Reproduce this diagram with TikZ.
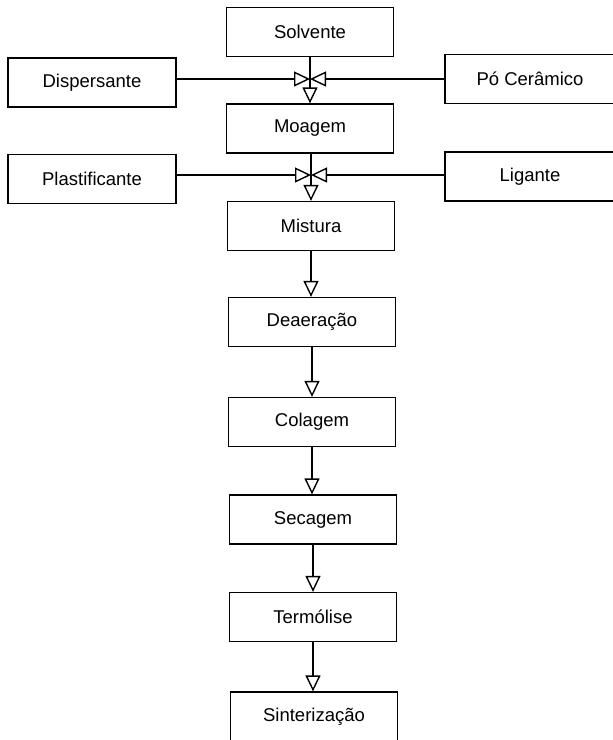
\documentclass[tikz,border=0pt]{standalone}
\usepackage{fontspec}
\setmainfont{Liberation Sans}
\usetikzlibrary{arrows.meta}
\begin{document}
\begin{tikzpicture}[x=1pt,y=-1pt,
  box/.style={draw, line width=1.3pt, minimum width=167pt, minimum height=49pt, inner sep=0pt,
    font=\fontsize{18.5}{22}\selectfont},
  conn/.style={line width=2pt},
  arr/.style={-{Triangle[open, length=16pt, width=15pt, line width=1.4pt]}}]
\useasboundingbox (0,0) rectangle (613,740);
% main column
\node[box] (solv) at (310,32) {Solvente};
\node[box] (moag) at (310,128.5) {Moagem};
\node[box] (mist) at (311,226) {Mistura};
\node[box] (deae) at (312,322) {Deaeração};
\node[box] (cola) at (312,422) {Colagem};
\node[box] (seca) at (313,519.5) {Secagem};
\node[box] (term) at (313,617) {Termólise};
\node[box] (sint) at (314,716.5) {Sinterização};
% side boxes
\node[box, minimum width=168pt] (disp) at (92,82.5) {Dispersante};
\node[box, minimum width=170pt] (po) at (530,79) {Pó Cerâmico};
\node[box, minimum width=168pt] (plas) at (92,179) {Plastificante};
\node[box, minimum width=170pt] (liga) at (530,176.5) {Ligante};
% junctions
\coordinate (j1) at (310,79);
\coordinate (j2) at (311,175);
\draw[conn] (solv.south -| j1) -- (j1);
\draw[conn,arr] (j1) -- (j1 |- moag.north);
\draw[conn,arr] (disp.east |- j1) -- (j1);
\draw[conn,arr] (po.west |- j1) -- (j1);
\draw[conn] (moag.south -| j2) -- (j2);
\draw[conn,arr] (j2) -- (j2 |- mist.north);
\draw[conn,arr] (plas.east |- j2) -- (j2);
\draw[conn,arr] (liga.west |- j2) -- (j2);
% main chain
\draw[conn,arr] (mist.south) -- (mist.south |- deae.north);
\draw[conn,arr] (deae.south) -- (deae.south |- cola.north);
\draw[conn,arr] (cola.south) -- (cola.south |- seca.north);
\draw[conn,arr] (seca.south) -- (seca.south |- term.north);
\draw[conn,arr] (term.south) -- (term.south |- sint.north);
\end{tikzpicture}
\end{document}
